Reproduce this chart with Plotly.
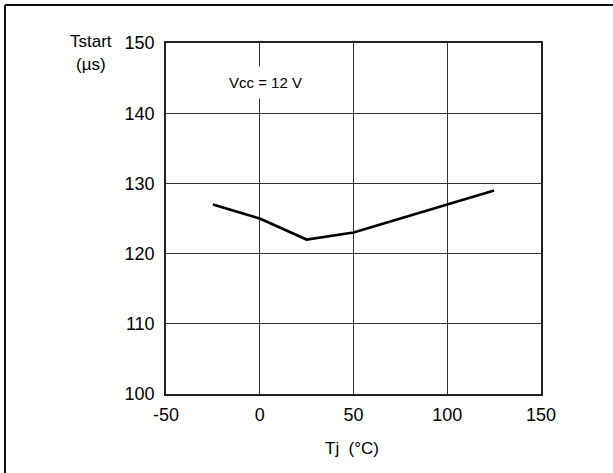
import plotly.graph_objects as go

tj = [-25, 0, 25, 50, 75, 100, 125]
tstart = [127, 125, 122, 123, 125, 127, 129]

x_ticks = [-50, 0, 50, 100, 150]
y_ticks = [100, 110, 120, 130, 140, 150]

FONT = "Liberation Sans, Arial, sans-serif"

fig = go.Figure()
fig.add_trace(go.Scatter(x=tj, y=tstart, mode="lines",
                         line=dict(color="#000000", width=2.6),
                         showlegend=False, hoverinfo="skip"))

fig.update_layout(
    width=613, height=473,
    margin=dict(l=166, r=72, t=43, b=79),
    paper_bgcolor="white", plot_bgcolor="white",
    font=dict(family=FONT, size=18, color="#000000"),
    xaxis=dict(range=[-50, 150], tickvals=x_ticks, ticktext=[str(v) for v in x_ticks],
               showgrid=True, gridcolor="#333333", gridwidth=1,
               zeroline=False, showline=True, linecolor="#222222", linewidth=1.5,
               mirror=True, ticks="", ticklabelstandoff=4,
               tickfont=dict(size=18)),
    yaxis=dict(range=[100, 150], tickvals=y_ticks, ticktext=[str(v) for v in y_ticks],
               showgrid=True, gridcolor="#333333", gridwidth=1,
               zeroline=False, showline=True, linecolor="#222222", linewidth=1.5,
               mirror=True, ticks="", ticklabelstandoff=6,
               tickfont=dict(size=18)),
    shapes=[
        dict(type="line", xref="paper", yref="paper", x0=-0.4293, x1=1.3, y0=1.1083, y1=1.1083,
             line=dict(color="#111111", width=2)),
        dict(type="line", xref="paper", yref="paper", x0=-0.4293, x1=-0.4293, y0=-0.3, y1=1.1083,
             line=dict(color="#111111", width=2)),
    ],
    annotations=[
        dict(x=0.265, y=0.887, xref="paper", yref="paper", text="Vcc = 12 V",
             showarrow=False, font=dict(size=15), bgcolor="white",
             xanchor="center", yanchor="middle", borderpad=7),
        dict(x=-0.2, y=1.005, xref="paper", yref="paper", text="Tstart",
             showarrow=False, font=dict(size=17), xanchor="center", yanchor="middle"),
        dict(x=-0.2, y=0.94, xref="paper", yref="paper", text="(µs)",
             showarrow=False, font=dict(size=17), xanchor="center", yanchor="middle"),
        dict(x=0.497, y=-0.154, xref="paper", yref="paper", text="Tj  (°C)",
             showarrow=False, font=dict(size=17), xanchor="center", yanchor="middle"),
    ],
)

fig.write_html("out.html")
